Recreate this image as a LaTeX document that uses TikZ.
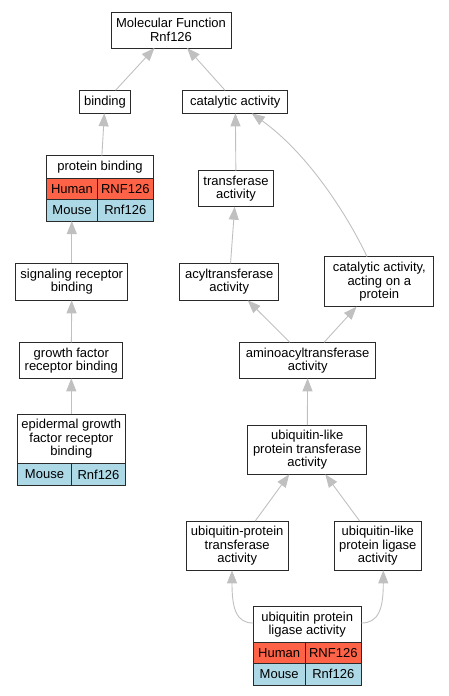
\documentclass[tikz,border=0pt]{standalone}
\usepackage{fontspec}
\setmainfont{Liberation Sans}
\usetikzlibrary{arrows.meta,fit}
\definecolor{human}{HTML}{FF6347}
\definecolor{mouse}{HTML}{ADD8E6}
\definecolor{edgegray}{HTML}{C0C0C0}
\definecolor{boxline}{HTML}{2A2A2A}
\tikzset{
  box/.style={draw=boxline, line width=1pt, fill=white, inner sep=0pt, outer sep=0pt,
    align=center, font=\fontsize{13}{13.3}\selectfont},
  hcell/.style={box, fill=human},
  mcell/.style={box, fill=mouse},
  tbl/.style={inner sep=0pt, outer sep=0pt},
  edge/.style={draw=edgegray, line width=0.9pt, -{Triangle[length=13pt,width=10pt,fill=edgegray,color=edgegray]}},
}
\begin{document}
\begin{tikzpicture}[x=1pt,y=-1pt]
\useasboundingbox (0,0) rectangle (448,696);
% plain boxes
\node[box, minimum width=120pt, minimum height=36pt] (mf) at (171,30) {Molecular Function\\Rnf126};
\node[box, minimum width=51.4pt, minimum height=23pt] (bind) at (105,101.8) {binding};
\node[box, minimum width=105.3pt, minimum height=23pt] (cat) at (235.3,101.8) {catalytic activity};
\node[box, minimum width=74.6pt, minimum height=36pt] (trans) at (236,188.7) {transferase\\activity};
\node[box, minimum width=112.3pt, minimum height=37pt] (srb) at (71.8,281.8) {signaling receptor\\binding};
\node[box, minimum width=99pt, minimum height=37pt] (acyl) at (229.2,281.8) {acyltransferase\\activity};
\node[box, minimum width=108.7pt, minimum height=50pt] (capr) at (379.3,281.7) {catalytic activity,\\acting on a\\protein};
\node[box, minimum width=102.7pt, minimum height=36pt] (gfrb) at (71.3,360.3) {growth factor\\receptor binding};
\node[box, minimum width=136pt, minimum height=36pt] (amino) at (307.7,360.3) {aminoacyltransferase\\activity};
\node[box, minimum width=119pt, minimum height=49.3pt] (ult) at (307.2,449.7) {ubiquitin-like\\protein transferase\\activity};
\node[box, minimum width=101.7pt, minimum height=49.3pt] (upt) at (237.2,545.7) {ubiquitin-protein\\transferase\\activity};
\node[box, minimum width=87pt, minimum height=49.3pt] (ull) at (377.8,545.7) {ubiquitin-like\\protein ligase\\activity};
% protein binding table
\node[box, minimum width=106.6pt, minimum height=22.6pt] (pb) at (100,167) {protein binding};
\node[hcell, minimum width=50.6pt, minimum height=21pt] (pbh1) at (72,188.8) {Human};
\node[hcell, minimum width=56pt, minimum height=21pt] (pbh2) at (125.3,188.8) {RNF126};
\node[mcell, minimum width=50.6pt, minimum height=21.7pt] (pbm1) at (72,210.2) {Mouse};
\node[mcell, minimum width=56pt, minimum height=21.7pt] (pbm2) at (125.3,210.2) {Rnf126};
\node[tbl, fit=(pb)(pbh1)(pbm2)] (pbT) {};
% epidermal growth factor receptor binding table
\node[box, minimum width=108pt, minimum height=49pt] (egfr) at (71.3,438.8) {epidermal growth\\factor receptor\\binding};
\node[mcell, minimum width=54.4pt, minimum height=22.4pt] (egm1) at (44.5,474.5) {Mouse};
\node[mcell, minimum width=53.6pt, minimum height=22.4pt] (egm2) at (98.5,474.5) {Rnf126};
\node[tbl, fit=(egfr)(egm1)(egm2)] (egT) {};
% ubiquitin protein ligase activity table
\node[box, minimum width=108.3pt, minimum height=36pt] (upl) at (307.2,624.7) {ubiquitin protein\\ligase activity};
\node[hcell, minimum width=52.3pt, minimum height=20.6pt] (uplh1) at (279.2,653) {Human};
\node[hcell, minimum width=56pt, minimum height=20.6pt] (uplh2) at (333.3,653) {RNF126};
\node[mcell, minimum width=52.3pt, minimum height=21.7pt] (uplm1) at (279.2,674.2) {Mouse};
\node[mcell, minimum width=56pt, minimum height=21.7pt] (uplm2) at (333.3,674.2) {Rnf126};
\node[tbl, fit=(upl)(uplh1)(uplm2)] (uplT) {};
% edges
\draw[edge] (bind) -- (mf);
\draw[edge] (cat) -- (mf);
\draw[edge] (pbT) -- (bind);
\draw[edge] (trans) -- (cat);
\draw[edge] (acyl) -- (trans);
\draw[edge] ([xshift=-12.3pt]capr.north) .. controls (350,220) and (310,155) .. ([xshift=16.4pt]cat.south);
\draw[edge] (srb.north) -- (srb.north |- pbT.south);
\draw[edge] (gfrb) -- (srb);
\draw[edge] (egT) -- (gfrb);
\draw[edge] (amino) -- (acyl);
\draw[edge] (amino) -- (capr);
\draw[edge] (ult) -- (amino);
\draw[edge] (upt) -- (ult);
\draw[edge] (ull) -- (ult);
\draw[edge] ([yshift=22.85pt]uplT.west) .. controls (236,623) and (232,608) .. ([xshift=-5.2pt]upt.south);
\draw[edge] ([yshift=22.85pt]uplT.east) .. controls (379,623) and (383.3,608) .. ([xshift=5.5pt]ull.south);
\end{tikzpicture}
\end{document}
